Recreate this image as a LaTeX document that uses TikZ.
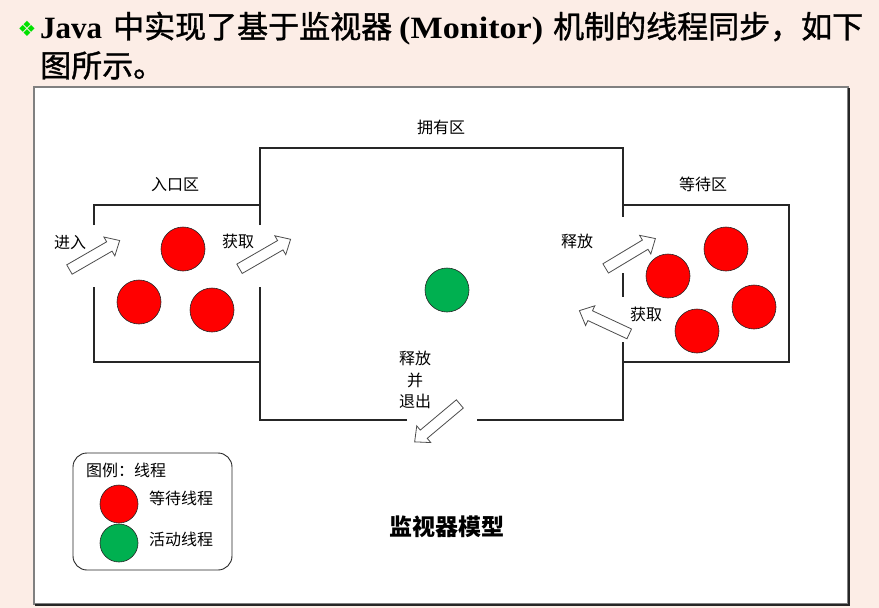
\documentclass[tikz,border=0pt]{standalone}
\usepackage{fontspec}
\setmainfont{Liberation Serif}
\newfontfamily\cjk{Noto Sans CJK SC}
\newfontfamily\cjkhead[FakeBold=1.2]{Noto Sans CJK SC}
\newfontfamily\symfont{DejaVu Sans}
\usetikzlibrary{shapes.arrows}

\definecolor{pagebg}{RGB}{252,237,230}
\definecolor{waitred}{RGB}{255,0,0}
\definecolor{activegreen}{RGB}{0,176,80}
\definecolor{bulletgreen}{RGB}{0,225,0}

\tikzset{
  zone/.style={line width=1.1pt, draw=black!85},
  thread/.style={circle, draw=black!85, line width=0.6pt, minimum size=44pt, inner sep=0pt},
  waiting/.style={thread, fill=waitred},
  active/.style={thread, fill=activegreen},
  flow/.style={single arrow, draw=black!70, fill=white, line width=0.8pt,
    minimum width=21pt, single arrow head extend=5.5pt,
    single arrow tip angle=85, inner xsep=0pt, inner ysep=5pt},
  lab/.style={font=\cjk\fontsize{16}{21.5}\selectfont, inner sep=0pt},
  titlecjk/.style={font=\cjkhead\fontsize{31}{36}\selectfont, inner sep=0pt, anchor=base west},
  titlelat/.style={font=\bfseries\fontsize{31}{36}\selectfont, inner sep=0pt, anchor=base west},
}

\begin{document}
\begin{tikzpicture}[x=1pt,y=-1pt]
\useasboundingbox (0,0) rectangle (879,608);
\fill[pagebg] (0,0) rectangle (879,608);

% heading
\node[text=bulletgreen, font=\symfont\fontsize{21}{24}\selectfont, inner sep=0pt] (bullet) at (27,29) {❖};
\node[titlelat] (t1) at (40,38) {Java};
\node[titlecjk] (t2) at (113,38) {中实现了基于监视器};
\node[titlelat, xscale=1.1] (t3) at (399,38) {(Monitor)};
\node[titlecjk] (t4) at (553,38) {机制的线程同步，如下};
\node[titlecjk] (t5) at (40,77) {图所示。};

% frame of the figure
\draw[fill=white, draw=black!50, line width=1.5pt] (34,87) rectangle (848,604);
\draw[black!85, line width=1.2pt] (849,88) -- (849,605) -- (35,605);

% region corners
\coordinate (oTL) at (260,148);
\coordinate (oTR) at (623,148);
\coordinate (eTL) at (94,205);
\coordinate (wTR) at (789,205);

% owned region
\draw[zone] (260,225) -- (oTL) -- (oTR) -- (623,217);
\draw[zone] (623,273) -- (623,297);
\draw[zone] (623,342) -- (623,420) -- (477,420);
\draw[zone] (407,420) -- (260,420) -- (260,287);
% entry region
\draw[zone] (94,225) -- (eTL) -- (260,205);
\draw[zone] (94,287) -- (94,362) -- (260,362);
% waiting region
\draw[zone] (623,205) -- (wTR) -- (789,362) -- (623,362);

% region titles
\node[lab] (ownT) at (441,127) {拥有区};
\node[lab] (entT) at (175,185) {入口区};
\node[lab] (waiT) at (703,184) {等待区};

% threads
\node[waiting] (e1) at (183,249) {};
\node[waiting] (e2) at (139,302) {};
\node[waiting] (e3) at (212,310) {};
\node[active]  (o1) at (447,290) {};
\node[waiting] (w1) at (726,249) {};
\node[waiting] (w2) at (668,276) {};
\node[waiting] (w3) at (754,307) {};
\node[waiting] (w4) at (697,331) {};

% movement arrows
\node[flow, minimum height=58pt, rotate=30]  (aIn)   at (92,256.5) {};
\node[flow, minimum height=59pt, rotate=30]  (aGet)  at (262.5,255.5) {};
\node[flow, minimum height=58pt, rotate=31]  (aRel)  at (628,255) {};
\node[flow, minimum height=55pt, rotate=155] (aBack) at (607,323.5) {};
\node[flow, minimum height=59pt, rotate=220] (aOut)  at (439.5,421) {};

\node[lab] (lIn)   at (70,243)  {进入};
\node[lab] (lGet)  at (238,241) {获取};
\node[lab] (lRel)  at (577,241) {释放};
\node[lab] (lBack) at (646,314) {获取};
\node[lab, align=center] (lOut) at (415,380) {释放\\并\\退出};

% legend
\draw[draw=black!85, line width=0.9pt, rounded corners=14pt] (73,453) rectangle (232,570);
\node[lab, anchor=west] (legT) at (86,470) {图例：线程};
\node[waiting, minimum size=38pt] (legR) at (119,504) {};
\node[active, minimum size=38pt]  (legG) at (119,543) {};
\node[lab, anchor=west] (legRt) at (149,498) {等待线程};
\node[lab, anchor=west] (legGt) at (149,539) {活动线程};

% caption
\node[font=\cjk\bfseries\fontsize{23}{26}\selectfont, inner sep=0pt] (cap) at (447,527) {监视器模型};
\end{tikzpicture}
\end{document}
